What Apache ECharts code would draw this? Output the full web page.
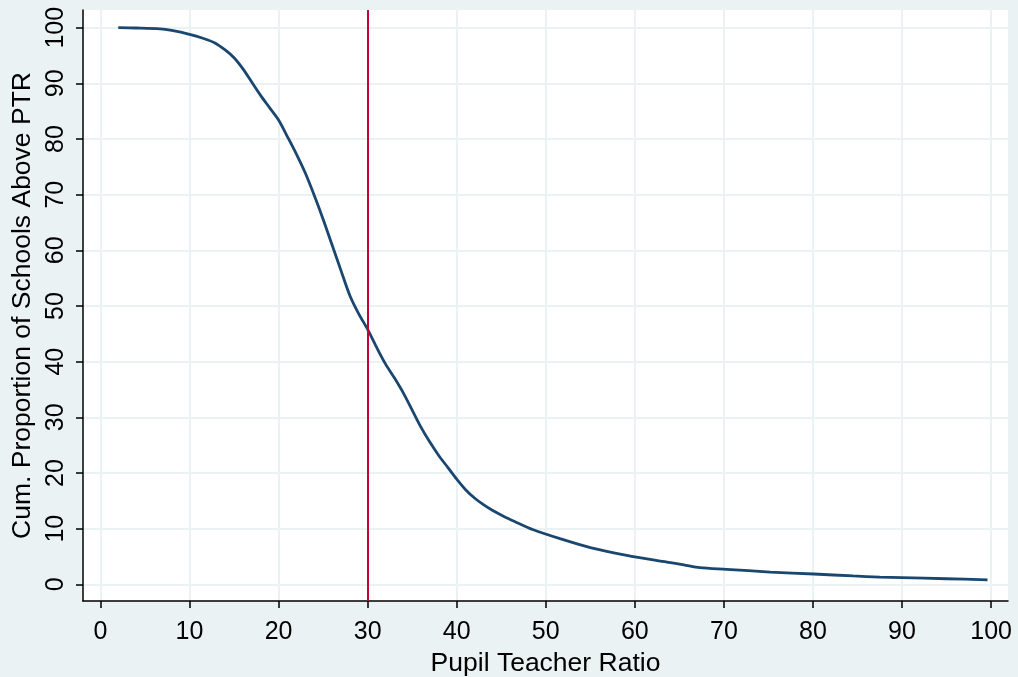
<!DOCTYPE html>
<html>
<head>
<meta charset="utf-8">
<script src="https://cdn.jsdelivr.net/npm/echarts@6/dist/echarts.min.js"></script>
<style>
html,body{margin:0;padding:0;background:#eaf2f3;}
#c{width:1018px;height:677px;}
</style>
</head>
<body>
<div id="c"></div>
<script>
// Pupil teacher ratio (x) vs cumulative proportion of schools above PTR (y)
const ptr = [2, 4, 6.7, 8, 10, 11.5, 12.8, 14, 15, 16, 17, 18, 19, 20, 21, 22, 23, 24, 25, 26, 27, 28, 29, 30, 31, 32, 33, 34, 35, 36, 37, 38, 39, 40, 41, 42, 43, 44, 45.3, 46.5, 48.6, 51.6, 55, 59.1, 63.6, 65.5, 67.3, 70.3, 75.2, 80.1, 84.5, 87.5, 90, 95, 99.6];
const cumProp = [100, 99.95, 99.8, 99.5, 98.8, 98.1, 97.3, 96.0, 94.6, 92.6, 90.2, 87.8, 85.6, 83.4, 80.4, 77.3, 73.9, 69.9, 65.6, 61.0, 56.4, 51.9, 48.6, 45.8, 42.6, 39.6, 37.1, 34.4, 31.3, 28.2, 25.5, 23.1, 21.0, 18.9, 17.0, 15.5, 14.3, 13.3, 12.2, 11.3, 9.8, 8.2, 6.6, 5.2, 4.0, 3.5, 3.0, 2.7, 2.2, 1.85, 1.5, 1.3, 1.2, 1.0, 0.8];
const xTicks = [0, 10, 20, 30, 40, 50, 60, 70, 80, 90, 100];
const yTicks = [0, 10, 20, 30, 40, 50, 60, 70, 80, 90, 100];
const refLine = [30];

const chart = echarts.init(document.getElementById('c'), null, {renderer: 'canvas'});
const font = 'Liberation Sans, Arial, Helvetica, sans-serif';
chart.setOption({
  backgroundColor: '#eaf2f3',
  animation: false,
  grid: {left: 83, right: 10, top: 10, bottom: 76, show: true, backgroundColor: '#ffffff', borderWidth: 0,
         containLabel: false, outerBoundsMode: 'none'},
  xAxis: {
    type: 'value', min: -1.96, max: 101.9,
    name: 'Pupil Teacher Ratio', nameLocation: 'middle', nameGap: 48,
    nameTextStyle: {color: '#000', fontSize: 26.5, fontFamily: font},
    axisLine: {show: true, onZero: false, lineStyle: {color: '#000', width: 1.5}},
    axisTick: {show: true, length: 7, lineStyle: {color: '#000', width: 1.5}, customValues: xTicks},
    axisLabel: {color: '#000', fontSize: 25, fontFamily: font, margin: 19, customValues: xTicks},
    splitLine: {show: true, lineStyle: {color: '#eaf2f3', width: 2}}
  },
  yAxis: {
    type: 'value', min: -3.0, max: 103.18,
    name: 'Cum. Proportion of Schools Above PTR', nameLocation: 'middle', nameGap: 47,
    nameTextStyle: {color: '#000', fontSize: 26.5, fontFamily: font},
    axisLine: {show: true, onZero: false, lineStyle: {color: '#000', width: 1.5}},
    axisTick: {show: true, length: 7, lineStyle: {color: '#000', width: 1.5}, customValues: yTicks},
    axisLabel: {color: '#000', fontSize: 25, fontFamily: font, rotate: 90, margin: 14, customValues: yTicks},
    splitLine: {show: true, lineStyle: {color: '#eaf2f3', width: 2}}
  },
  series: [{
    type: 'line',
    data: ptr.map((v, i) => [v, cumProp[i]]),
    showSymbol: false,
    smooth: 0.3,
    lineStyle: {color: '#1a476f', width: 2.8},
    itemStyle: {color: '#1a476f'},
    z: 3,
    markLine: {
      silent: true, symbol: ['none', 'none'],
      label: {show: false},
      lineStyle: {color: '#c10534', width: 2, type: 'solid'},
      data: refLine.map(v => ({xAxis: v}))
    }
  }]
});
</script>
</body>
</html>
